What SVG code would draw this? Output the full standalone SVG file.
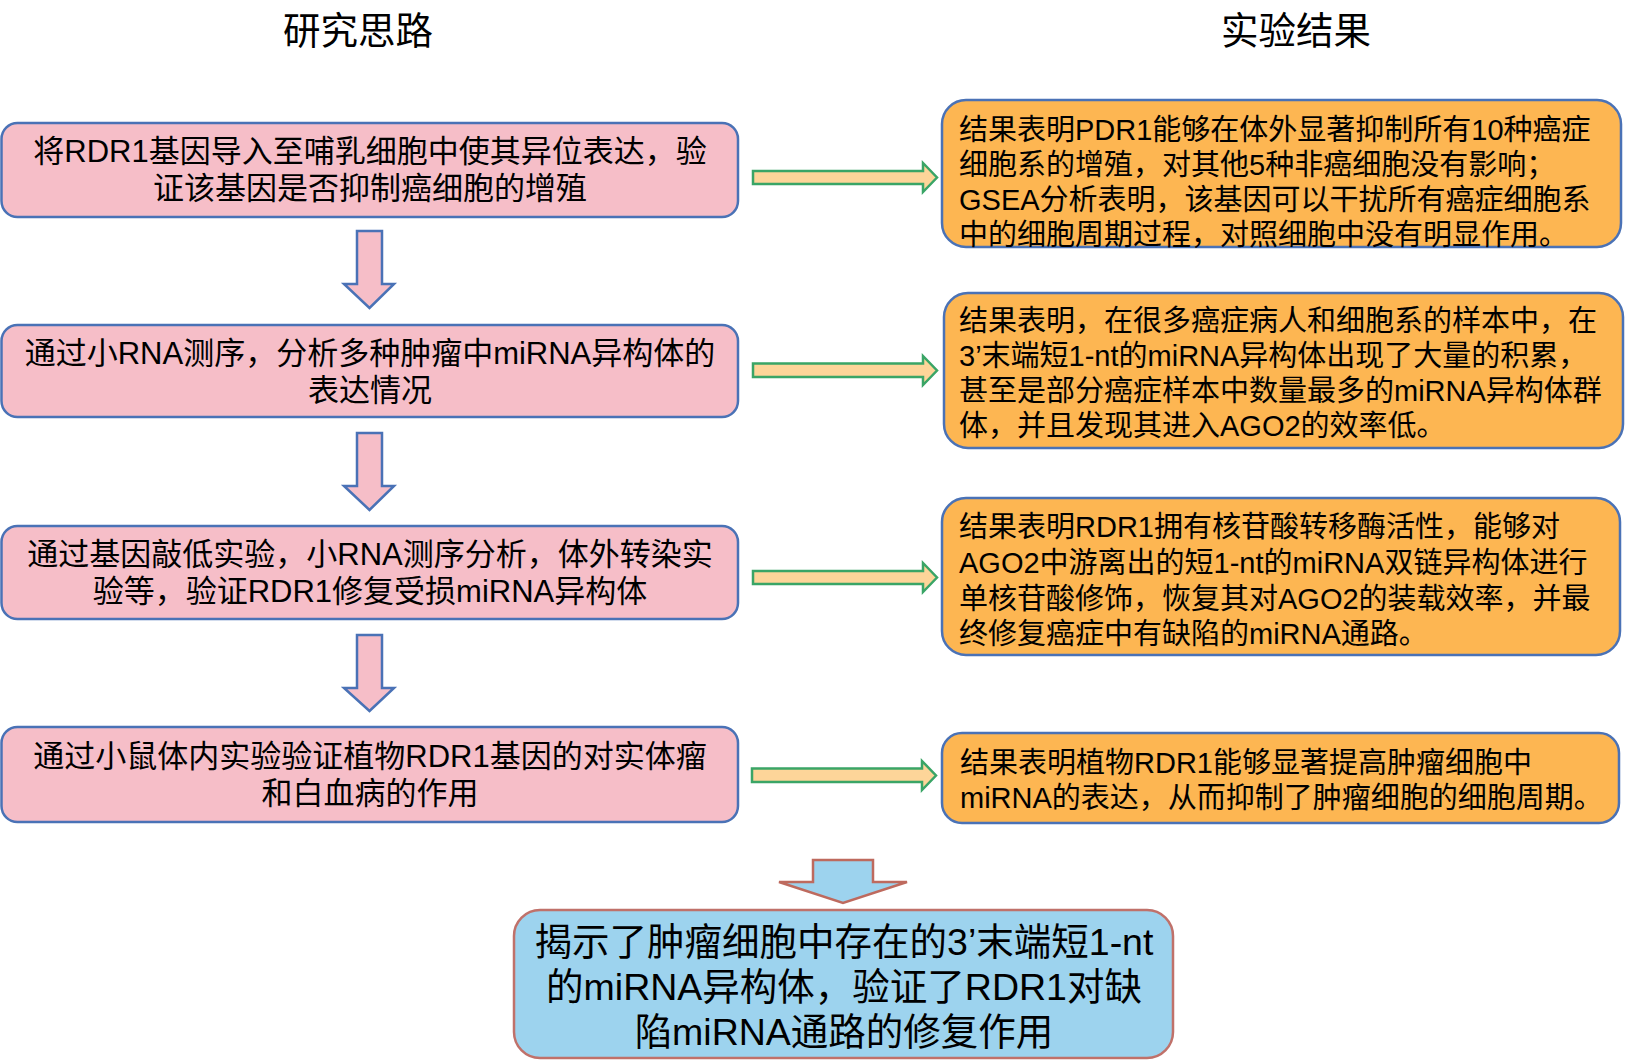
<svg xmlns="http://www.w3.org/2000/svg" width="1626" height="1062" viewBox="0 0 1626 1062">
<style>
text{font-family:"Liberation Sans","Noto Sans CJK SC",sans-serif;fill:#000}
.title{font-size:37.5px;text-anchor:middle}
.lbox{fill:#F6BEC8;stroke:#4A72B6;stroke-width:2.5}
.ltxt{font-size:31px;text-anchor:middle}
.rbox{fill:#FDB652;stroke:#4A72B6;stroke-width:2.5}
.rtxt{font-size:29px}
.bbox{fill:#9DD3EE;stroke:#C0716A;stroke-width:2.5}
.btxt{font-size:37.5px;text-anchor:middle}
.darrow{fill:#F6BEC8;stroke:#4A72B6;stroke-width:2.5;stroke-linejoin:miter}
.rarrow{fill:#FDD599;stroke:#3AA566;stroke-width:2.5;stroke-linejoin:miter}
.barrow{fill:#9DD3EE;stroke:#BE6A5E;stroke-width:2.5;stroke-linejoin:miter}
</style>
<rect width="1626" height="1062" fill="#fff"/>
<g id="titles">
<text class="title" x="358" y="44">研究思路</text>
<text class="title" x="1296" y="44">实验结果</text>
</g>
<g id="connectors">
<polygon class="darrow" points="357,231 382,231 382,284 394,284 369.5,308 344,284 357,284"/>
<polygon class="darrow" points="357,433 382,433 382,486 394,486 369.5,510 344,486 357,486"/>
<polygon class="darrow" points="357,635 382,635 382,688 394,688 369.5,711 344,688 357,688"/>
<polygon class="rarrow" points="753,171 923,171 923,163 937,177.5 923,192 923,184 753,184"/>
<polygon class="rarrow" points="753,363.5 923,363.5 923,356 937,370.5 923,385 923,377 753,377"/>
<polygon class="rarrow" points="753,571 923,571 923,563 937,577.5 923,592 923,584 753,584"/>
<polygon class="rarrow" points="752,768.5 922,768.5 922,761 936,775.5 922,790 922,782 752,782"/>
<polygon class="barrow" points="813,860 873,860 873,882 907,882 843,903 779,882 813,882"/>
</g>
<g id="left1">
<rect class="lbox" x="1.5" y="123" width="736.5" height="94" rx="16"/>
<text class="ltxt" x="370" y="162">将RDR1基因导入至哺乳细胞中使其异位表达，验</text>
<text class="ltxt" x="370" y="199">证该基因是否抑制癌细胞的增殖</text>
</g>
<g id="left2">
<rect class="lbox" x="1.5" y="325" width="736.5" height="92" rx="16"/>
<text class="ltxt" x="370" y="364">通过小RNA测序，分析多种肿瘤中miRNA异构体的</text>
<text class="ltxt" x="370" y="401">表达情况</text>
</g>
<g id="left3">
<rect class="lbox" x="1.5" y="526" width="736.5" height="93" rx="16"/>
<text class="ltxt" x="370" y="565">通过基因敲低实验，小RNA测序分析，体外转染实</text>
<text class="ltxt" x="370" y="602">验等，验证RDR1修复受损miRNA异构体</text>
</g>
<g id="left4">
<rect class="lbox" x="1.5" y="727" width="736.5" height="95" rx="16"/>
<text class="ltxt" x="370" y="767">通过小鼠体内实验验证植物RDR1基因的对实体瘤</text>
<text class="ltxt" x="370" y="804">和白血病的作用</text>
</g>
<g id="right1">
<rect class="rbox" x="942" y="100" width="679" height="147" rx="24"/>
<text class="rtxt" x="959" y="140">结果表明PDR1能够在体外显著抑制所有10种癌症</text>
<text class="rtxt" x="959" y="175">细胞系的增殖，对其他5种非癌细胞没有影响；</text>
<text class="rtxt" x="959" y="210">GSEA分析表明，该基因可以干扰所有癌症细胞系</text>
<text class="rtxt" x="959" y="245">中的细胞周期过程，对照细胞中没有明显作用。</text>
</g>
<g id="right2">
<rect class="rbox" x="944" y="293" width="679" height="155" rx="24"/>
<text class="rtxt" x="959" y="331">结果表明，在很多癌症病人和细胞系的样本中，在</text>
<text class="rtxt" x="959" y="366">3’末端短1-nt的miRNA异构体出现了大量的积累，</text>
<text class="rtxt" x="959" y="400.5">甚至是部分癌症样本中数量最多的miRNA异构体群</text>
<text class="rtxt" x="959" y="435.5">体，并且发现其进入AGO2的效率低。</text>
</g>
<g id="right3">
<rect class="rbox" x="942" y="498" width="678" height="157" rx="24"/>
<text class="rtxt" x="959" y="537">结果表明RDR1拥有核苷酸转移酶活性，能够对</text>
<text class="rtxt" x="959" y="572.5">AGO2中游离出的短1-nt的miRNA双链异构体进行</text>
<text class="rtxt" x="959" y="608.5">单核苷酸修饰，恢复其对AGO2的装载效率，并最</text>
<text class="rtxt" x="959" y="644">终修复癌症中有缺陷的miRNA通路。</text>
</g>
<g id="right4">
<rect class="rbox" x="942" y="733" width="677" height="90" rx="20"/>
<text class="rtxt" x="960" y="773">结果表明植物RDR1能够显著提高肿瘤细胞中</text>
<text class="rtxt" x="960" y="808">miRNA的表达，从而抑制了肿瘤细胞的细胞周期。</text>
</g>
<g id="bottom">
<rect class="bbox" x="514" y="910" width="659" height="148" rx="26"/>
<text class="btxt" x="844" y="955">揭示了肿瘤细胞中存在的3’末端短1-nt</text>
<text class="btxt" x="844" y="1000">的miRNA异构体，验证了RDR1对缺</text>
<text class="btxt" x="844" y="1045">陷miRNA通路的修复作用</text>
</g>
</svg>
